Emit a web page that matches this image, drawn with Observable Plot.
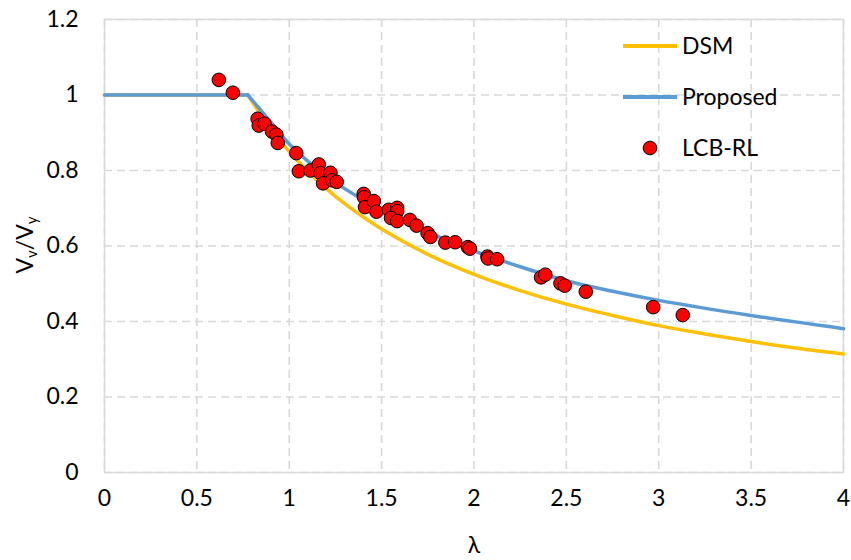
<!DOCTYPE html>
<html><head><meta charset="utf-8">
<script src="https://cdn.jsdelivr.net/npm/d3@7"></script>
<script src="https://cdn.jsdelivr.net/npm/@observablehq/plot@0.6"></script>
<style>
body{margin:0;background:#fff;font-family:Lato,"Open Sans",sans-serif;}
#wrap{position:relative;width:851px;height:560px;}
#legend{position:absolute;left:0;top:0;width:851px;height:560px;pointer-events:none;}
</style></head><body><div id="wrap"><div id="chart"></div><svg id="legend" width="851" height="560"></svg></div>
<script>
// Axis ticks
const xTicks = [0, 0.5, 1, 1.5, 2, 2.5, 3, 3.5, 4];
const yTicks = [0, 0.2, 0.4, 0.6, 0.8, 1, 1.2];

// DSM curve
const dsmLambda = [0, 0.776, 0.9, 1.0, 1.1, 1.2, 1.3, 1.4, 1.5, 1.75, 2.0, 2.25, 2.5, 2.75, 3.0, 3.25, 3.5, 3.75, 4.0];
const dsmValue  = [1, 1.000, 0.910, 0.850, 0.798, 0.752, 0.712, 0.677, 0.645, 0.578, 0.525, 0.482, 0.446, 0.416, 0.389, 0.367, 0.347, 0.329, 0.314];

// Proposed curve
const propLambda = [0, 0.776, 0.9, 1.0, 1.1, 1.2, 1.3, 1.4, 1.5, 1.75, 2.0, 2.25, 2.5, 2.75, 3.0, 3.5, 4.0];
const propValue  = [1, 1.000, 0.928, 0.870, 0.825, 0.786, 0.752, 0.722, 0.695, 0.637, 0.587, 0.545, 0.508, 0.480, 0.456, 0.416, 0.381];

// LCB-RL test results
const testLambda = [0.619, 0.695, 0.829, 0.835, 0.866, 0.907, 0.930, 0.938, 1.038, 1.052, 1.115, 1.160, 1.169, 1.183, 1.223, 1.232, 1.257, 1.403, 1.405, 1.410, 1.458, 1.472, 1.539, 1.584, 1.584, 1.551, 1.584, 1.653, 1.689, 1.749, 1.764, 1.845, 1.898, 1.967, 1.978, 2.073, 2.076, 2.125, 2.363, 2.386, 2.468, 2.491, 2.605, 2.970, 3.130];
const testValue  = [1.040, 1.006, 0.937, 0.919, 0.924, 0.903, 0.895, 0.873, 0.846, 0.798, 0.800, 0.816, 0.793, 0.766, 0.794, 0.774, 0.770, 0.738, 0.729, 0.703, 0.719, 0.691, 0.696, 0.701, 0.692, 0.674, 0.666, 0.669, 0.654, 0.634, 0.624, 0.609, 0.610, 0.597, 0.593, 0.572, 0.567, 0.565, 0.517, 0.524, 0.501, 0.495, 0.479, 0.438, 0.417];

const seriesNames = ["DSM", "Proposed", "LCB-RL"];
const colors = ["#FFC000", "#5B9BD5", "#FF0000"];

function toRows(ls, vs) {
  return ls.map((l, i) => ({x: l, y: vs[i], part: i <= 1 ? "plateau" : "decay"}))
    .flatMap((d, i) => (i === 1 ? [d, {...d, part: "decay"}] : [d]));
}
const dsm = toRows(dsmLambda, dsmValue);
const prop = toRows(propLambda, propValue);
const tests = testLambda.map((l, i) => ({x: l, y: testValue[i]}));

const grid = {stroke: "#d9d9d9", strokeOpacity: 1, strokeWidth: 1.6, strokeDasharray: "8,5"};

const chart = Plot.plot({
  width: 851, height: 560,
  marginLeft: 104, marginRight: 8, marginTop: 19, marginBottom: 88,
  style: {fontFamily: "Lato, 'Open Sans', sans-serif", fontSize: "23px", color: "#000", background: "#fff"},
  x: {domain: [0, 4]},
  y: {domain: [0, 1.2]},
  marks: [
    Plot.gridX(xTicks, grid),
    Plot.gridY(yTicks, grid),
    Plot.frame({stroke: "#d9d9d9", strokeWidth: 1.5}),
    Plot.axisX(xTicks, {tickSize: 0, tickPadding: 17, label: null, fontSize: 23, tickFormat: d => String(d)}),
    Plot.axisY(yTicks, {tickSize: 0, tickPadding: 26, label: null, fontSize: 23, tickFormat: d => String(d)}),
    Plot.text(["λ"], {frameAnchor: "bottom", dy: 80, fontSize: 23, fill: "#000"}),
    Plot.line(dsm, {x: "x", y: "y", z: "part", stroke: colors[0], strokeWidth: 3.5, curve: "catmull-rom"}),
    Plot.line(prop, {x: "x", y: "y", z: "part", stroke: colors[1], strokeWidth: 3.5, curve: "catmull-rom"}),
    Plot.dot(tests, {x: "x", y: "y", r: 6.8, fill: colors[2], stroke: "#000", strokeWidth: 1})
  ]
});
document.getElementById("chart").appendChild(chart);

// Y axis title with subscripts
const svg = d3.select(chart.tagName.toLowerCase() === "svg" ? chart : chart.querySelector("svg"));
const yt = svg.append("text")
  .attr("transform", "translate(33,245) rotate(-90)")
  .attr("text-anchor", "middle")
  .attr("font-size", 23).attr("fill", "#000");
yt.append("tspan").text("V");
yt.append("tspan").attr("font-size", 15).attr("dy", 4).text("v");
yt.append("tspan").attr("dy", -4).text("/V");
yt.append("tspan").attr("font-size", 15).attr("dy", 4).text("y");

// Legend
const lg = d3.select("#legend");
const items = [
  {name: seriesNames[0], color: colors[0], type: "line", y: 46},
  {name: seriesNames[1], color: colors[1], type: "line", y: 97},
  {name: seriesNames[2], color: colors[2], type: "dot", y: 148}
];
items.forEach(it => {
  if (it.type === "line") {
    lg.append("line").attr("x1", 623).attr("x2", 677).attr("y1", it.y).attr("y2", it.y)
      .attr("stroke", it.color).attr("stroke-width", 4);
  } else {
    lg.append("circle").attr("cx", 650).attr("cy", it.y).attr("r", 6.8)
      .attr("fill", it.color).attr("stroke", "#000").attr("stroke-width", 1);
  }
  lg.append("text").attr("x", 682).attr("y", it.y).attr("dy", "0.36em")
    .attr("font-size", 23).attr("font-family", "Lato, 'Open Sans', sans-serif").attr("fill", "#000").text(it.name);
});
</script></body></html>
